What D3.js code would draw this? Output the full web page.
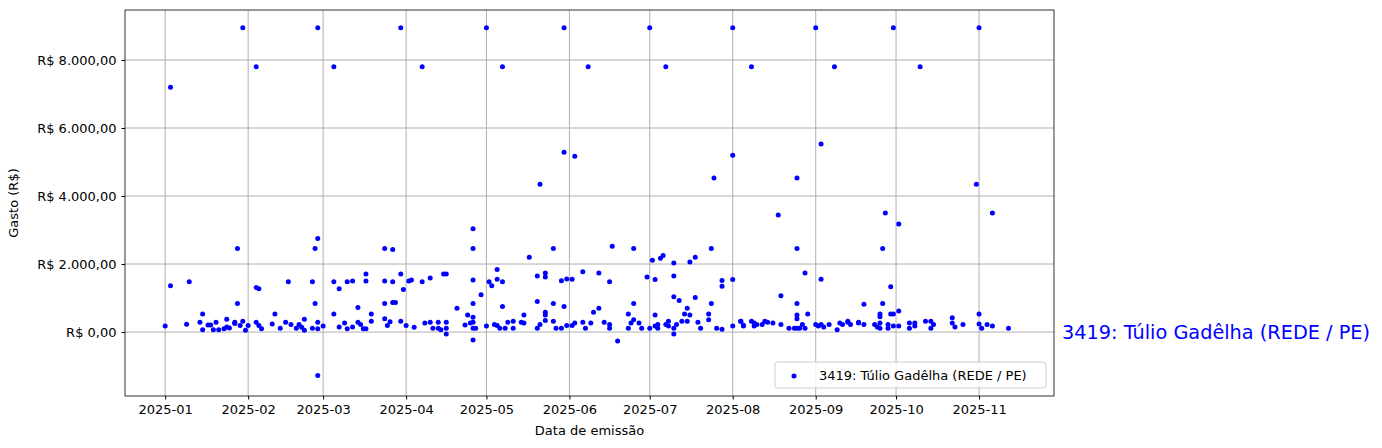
<!DOCTYPE html>
<html>
<head>
<meta charset="utf-8">
<script src="https://cdn.jsdelivr.net/npm/d3@7"></script>
<style>
  body { margin: 0; background: #fff; }
  svg { font-family: "DejaVu Sans", sans-serif; }
</style>
</head>
<body>
<svg id="chart" width="1382" height="448"></svg>
<script>
const deputado = "3419: Túlio Gadêlha (REDE / PE)";

// high recurring values (rent etc.)
const altos = [
  ["2025-01-03", 7200], ["2025-01-30", 8950], ["2025-02-27", 8950], ["2025-03-30", 8950],
  ["2025-05-01", 8950], ["2025-05-30", 8950], ["2025-07-01", 8950], ["2025-08-01", 8950],
  ["2025-09-01", 8950], ["2025-09-30", 8950], ["2025-11-01", 8950],
  ["2025-02-04", 7800], ["2025-03-05", 7800], ["2025-04-07", 7800], ["2025-05-07", 7800],
  ["2025-06-08", 7800], ["2025-07-07", 7800], ["2025-08-08", 7800], ["2025-09-08", 7800],
  ["2025-10-10", 7800],
  ["2025-05-21", 4350], ["2025-05-30", 5290], ["2025-06-03", 5170], ["2025-07-25", 4530],
  ["2025-08-01", 5200], ["2025-08-18", 3440], ["2025-08-25", 4530], ["2025-09-03", 5530],
  ["2025-09-27", 3500], ["2025-10-02", 3180], ["2025-10-31", 4350], ["2025-11-06", 3500]
];

// Jan - mid Apr
const inicio = [
  ["2025-01-01", 180], ["2025-01-03", 1360], ["2025-01-09", 230], ["2025-01-10", 1480],
  ["2025-01-15", 530], ["2025-01-14", 290], ["2025-01-15", 70], ["2025-01-17", 210],
  ["2025-01-18", 210], ["2025-01-19", 70], ["2025-01-20", 290], ["2025-01-21", 70],
  ["2025-01-23", 100], ["2025-01-24", 380], ["2025-01-24", 150], ["2025-01-25", 120],
  ["2025-01-27", 290], ["2025-01-27", 250], ["2025-01-28", 2460], ["2025-01-28", 840],
  ["2025-01-29", 190], ["2025-01-30", 320], ["2025-01-31", 50], ["2025-02-01", 190],
  ["2025-02-04", 1310], ["2025-02-05", 1275], ["2025-02-04", 290], ["2025-02-05", 190],
  ["2025-02-06", 100], ["2025-02-10", 240], ["2025-02-11", 530], ["2025-02-13", 115],
  ["2025-02-15", 290], ["2025-02-16", 1480], ["2025-02-17", 220], ["2025-02-19", 115],
  ["2025-02-20", 220], ["2025-02-21", 140], ["2025-02-22", 380], ["2025-02-22", 50],
  ["2025-02-25", 1480], ["2025-02-26", 2460], ["2025-02-26", 840], ["2025-02-27", 2750],
  ["2025-02-27", -1280], ["2025-02-25", 115], ["2025-02-27", 290], ["2025-02-27", 100],
  ["2025-03-01", 180], ["2025-03-05", 1480], ["2025-03-05", 530], ["2025-03-07", 1275],
  ["2025-03-07", 150], ["2025-03-09", 270], ["2025-03-10", 100], ["2025-03-10", 1480],
  ["2025-03-12", 1500], ["2025-03-12", 150], ["2025-03-14", 725], ["2025-03-14", 290],
  ["2025-03-15", 220], ["2025-03-16", 100], ["2025-03-17", 1710], ["2025-03-17", 1500],
  ["2025-03-17", 100], ["2025-03-19", 530], ["2025-03-19", 320], ["2025-03-24", 2460],
  ["2025-03-24", 1500], ["2025-03-24", 840], ["2025-03-24", 390], ["2025-03-25", 190],
  ["2025-03-27", 1480], ["2025-03-27", 2430], ["2025-03-27", 870], ["2025-03-28", 870],
  ["2025-03-26", 300], ["2025-03-30", 1710], ["2025-03-31", 1255], ["2025-03-30", 320],
  ["2025-04-01", 190], ["2025-04-02", 1500], ["2025-04-03", 1530], ["2025-04-04", 140],
  ["2025-04-07", 1480], ["2025-04-08", 270], ["2025-04-10", 1590], ["2025-04-10", 290],
  ["2025-04-11", 115], ["2025-04-13", 115], ["2025-04-13", 290], ["2025-04-14", 70],
  ["2025-04-15", 1710], ["2025-04-16", 1710], ["2025-04-16", 290], ["2025-04-16", 115],
  ["2025-04-16", -60]
];

// mid Apr - early Aug
const meio = [
  ["2025-04-20", 700], ["2025-04-23", 210], ["2025-04-24", 500], ["2025-04-25", 270],
  ["2025-04-26", 3040], ["2025-04-26", 2460], ["2025-04-26", 1530], ["2025-04-26", 840],
  ["2025-04-26", 435], ["2025-04-26", -230], ["2025-04-26", 115], ["2025-04-27", 115],
  ["2025-04-26", 290], ["2025-04-29", 1100], ["2025-05-01", 180], ["2025-05-02", 1480],
  ["2025-05-03", 1360], ["2025-05-05", 1550], ["2025-05-05", 1840], ["2025-05-07", 1480],
  ["2025-05-07", 750], ["2025-05-04", 220], ["2025-05-05", 190], ["2025-05-06", 115],
  ["2025-05-08", 115], ["2025-05-09", 290], ["2025-05-11", 320], ["2025-05-11", 115],
  ["2025-05-14", 290], ["2025-05-15", 270], ["2025-05-15", 500], ["2025-05-17", 2200],
  ["2025-05-20", 1650], ["2025-05-20", 900], ["2025-05-20", 115], ["2025-05-21", 220],
  ["2025-05-23", 1740], ["2025-05-23", 1620], ["2025-05-23", 580], ["2025-05-23", 340],
  ["2025-05-23", 500], ["2025-05-26", 2460], ["2025-05-26", 840], ["2025-05-26", 320],
  ["2025-05-27", 115], ["2025-05-29", 115], ["2025-05-29", 1510], ["2025-05-30", 750],
  ["2025-05-31", 1560], ["2025-05-31", 190], ["2025-06-02", 190], ["2025-06-02", 1550],
  ["2025-06-03", 270], ["2025-06-06", 1770], ["2025-06-06", 290], ["2025-06-07", 115],
  ["2025-06-09", 270], ["2025-06-10", 580], ["2025-06-12", 700], ["2025-06-12", 1740],
  ["2025-06-14", 290], ["2025-06-16", 220], ["2025-06-16", 1480], ["2025-06-16", 115],
  ["2025-06-17", 2520], ["2025-06-19", -260], ["2025-06-23", 530], ["2025-06-23", 115],
  ["2025-06-24", 270], ["2025-06-25", 2460], ["2025-06-25", 840], ["2025-06-25", 360],
  ["2025-06-27", 270], ["2025-06-28", 115], ["2025-06-30", 1620], ["2025-07-01", 115],
  ["2025-07-02", 2115], ["2025-07-03", 1545], ["2025-07-03", 500], ["2025-07-03", 180],
  ["2025-07-04", 115], ["2025-07-04", 220], ["2025-07-05", 2170], ["2025-07-06", 2250],
  ["2025-07-07", 220], ["2025-07-08", 320], ["2025-07-08", 180], ["2025-07-10", 1650],
  ["2025-07-10", 1040], ["2025-07-10", 115], ["2025-07-10", -60], ["2025-07-10", 2030],
  ["2025-07-11", 220], ["2025-07-12", 930], ["2025-07-13", 320], ["2025-07-14", 530],
  ["2025-07-15", 700], ["2025-07-15", 320], ["2025-07-16", 2060], ["2025-07-16", 500],
  ["2025-07-18", 2200], ["2025-07-18", 1015], ["2025-07-19", 290], ["2025-07-20", 115],
  ["2025-07-23", 530], ["2025-07-23", 360], ["2025-07-24", 2460], ["2025-07-24", 840],
  ["2025-07-26", 115], ["2025-07-28", 1515], ["2025-07-28", 1350], ["2025-07-28", 85],
  ["2025-08-01", 1545], ["2025-08-01", 180], ["2025-08-04", 320], ["2025-08-05", 200]
];

// Aug - Nov
const fim = [
  ["2025-08-04", 320], ["2025-08-05", 180], ["2025-08-08", 320], ["2025-08-09", 180],
  ["2025-08-09", 270], ["2025-08-10", 220], ["2025-08-12", 220], ["2025-08-13", 320],
  ["2025-08-14", 290], ["2025-08-16", 270], ["2025-08-19", 1070], ["2025-08-19", 220],
  ["2025-08-22", 115], ["2025-08-24", 115], ["2025-08-25", 2460], ["2025-08-25", 840],
  ["2025-08-25", 500], ["2025-08-25", 390], ["2025-08-25", 115], ["2025-08-26", 115],
  ["2025-08-27", 220], ["2025-08-28", 1740], ["2025-08-28", 115], ["2025-08-29", 530],
  ["2025-09-01", 220], ["2025-09-02", 180], ["2025-09-03", 1550], ["2025-09-03", 220],
  ["2025-09-04", 150], ["2025-09-06", 220], ["2025-09-09", 70], ["2025-09-10", 270],
  ["2025-09-11", 220], ["2025-09-13", 290], ["2025-09-13", 320], ["2025-09-14", 220],
  ["2025-09-17", 270], ["2025-09-17", 290], ["2025-09-19", 815], ["2025-09-19", 220],
  ["2025-09-23", 220], ["2025-09-24", 150], ["2025-09-25", 530], ["2025-09-25", 450],
  ["2025-09-25", 270], ["2025-09-25", 115], ["2025-09-26", 2460], ["2025-09-26", 840],
  ["2025-09-28", 220], ["2025-09-28", 115], ["2025-09-29", 1330], ["2025-09-29", 530],
  ["2025-09-30", 530], ["2025-09-30", 180], ["2025-10-02", 180], ["2025-10-02", 620],
  ["2025-10-06", 270], ["2025-10-06", 115], ["2025-10-08", 180], ["2025-10-08", 270],
  ["2025-10-12", 320], ["2025-10-14", 115], ["2025-10-14", 320], ["2025-10-15", 220],
  ["2025-10-22", 420], ["2025-10-22", 270], ["2025-10-23", 150], ["2025-10-26", 220],
  ["2025-11-01", 530], ["2025-11-01", 240], ["2025-11-02", 115], ["2025-11-04", 220],
  ["2025-11-06", 180], ["2025-11-12", 115]
];

const yTicks = [0, 2000, 4000, 6000, 8000];
const xTicks = ["2025-01", "2025-02", "2025-03", "2025-04", "2025-05", "2025-06",
                "2025-07", "2025-08", "2025-09", "2025-10", "2025-11"];

const parse = d3.timeParse("%Y-%m-%d");
const data = [...altos, ...inicio, ...meio, ...fim].map(d => ({date: parse(d[0]), valor: d[1]}));

const margin = {top: 10, right: 328, bottom: 52, left: 125},
    width = 1382 - margin.left - margin.right,
    height = 448 - margin.top - margin.bottom;

const svg = d3.select("#chart");
const g = svg.append("g")
    .attr("transform", "translate(" + margin.left + "," + margin.top + ")");

const x = d3.scaleTime()
    .domain([parse("2024-12-17"), parse("2025-11-29")])
    .range([0, width]);
const y = d3.scaleLinear()
    .domain([-1880, 9470])
    .range([height, 0]);

const fmt = v => "R$ " + d3.format(",.2f")(v).replace(/,/g, "#").replace(/\./g, ",").replace(/#/g, ".");
const tickDates = xTicks.map(t => d3.timeParse("%Y-%m")(t));

// grid
g.append("g").selectAll("line").data(tickDates).join("line")
    .attr("x1", d => x(d)).attr("x2", d => x(d))
    .attr("y1", 0).attr("y2", height)
    .attr("stroke", "#b0b0b0").attr("stroke-width", 1);
g.append("g").selectAll("line").data(yTicks).join("line")
    .attr("y1", d => y(d)).attr("y2", d => y(d))
    .attr("x1", 0).attr("x2", width)
    .attr("stroke", "#b0b0b0").attr("stroke-width", 1);

// axes
const xAxis = g.append("g")
    .attr("transform", "translate(0," + height + ")")
    .call(d3.axisBottom(x).tickValues(tickDates).tickFormat(d3.timeFormat("%Y-%m")).tickSize(3.5).tickPadding(5).tickSizeOuter(0));
const yAxis = g.append("g")
    .call(d3.axisLeft(y).tickValues(yTicks).tickFormat(fmt).tickSize(3.5).tickPadding(5).tickSizeOuter(0));
[xAxis, yAxis].forEach(a => {
    a.selectAll("text").attr("font-size", 13).attr("font-family", "DejaVu Sans").attr("fill", "#000");
    a.select(".domain").remove();
});

g.append("rect")
    .attr("width", width).attr("height", height)
    .attr("fill", "none").attr("stroke", "#000").attr("stroke-width", 0.8);

// points
g.append("g").selectAll("circle").data(data).join("circle")
    .attr("cx", d => x(d.date))
    .attr("cy", d => y(d.valor))
    .attr("r", 2.5)
    .attr("fill", "blue");

// labels
g.append("text")
    .attr("x", width / 2).attr("y", height + 39)
    .attr("text-anchor", "middle").attr("font-size", 13)
    .text("Data de emissão");
g.append("text")
    .attr("transform", "translate(-107," + (height / 2) + ") rotate(-90)")
    .attr("text-anchor", "middle").attr("font-size", 13)
    .text("Gasto (R$)");

g.append("text")
    .attr("x", width + 8).attr("y", y(0) + 7)
    .attr("font-size", 19.3).attr("fill", "blue")
    .text(deputado);

// legend
const lg = g.append("g").attr("transform", "translate(" + (width - 279) + "," + (height - 34) + ")");
lg.append("rect")
    .attr("width", 271).attr("height", 26).attr("rx", 3)
    .attr("fill", "#fff").attr("fill-opacity", 0.8)
    .attr("stroke", "#cccccc");
lg.append("circle").attr("cx", 19).attr("cy", 14).attr("r", 2.5).attr("fill", "blue");
lg.append("text").attr("x", 44).attr("y", 18).attr("font-size", 13).text(deputado);
</script>
</body>
</html>
